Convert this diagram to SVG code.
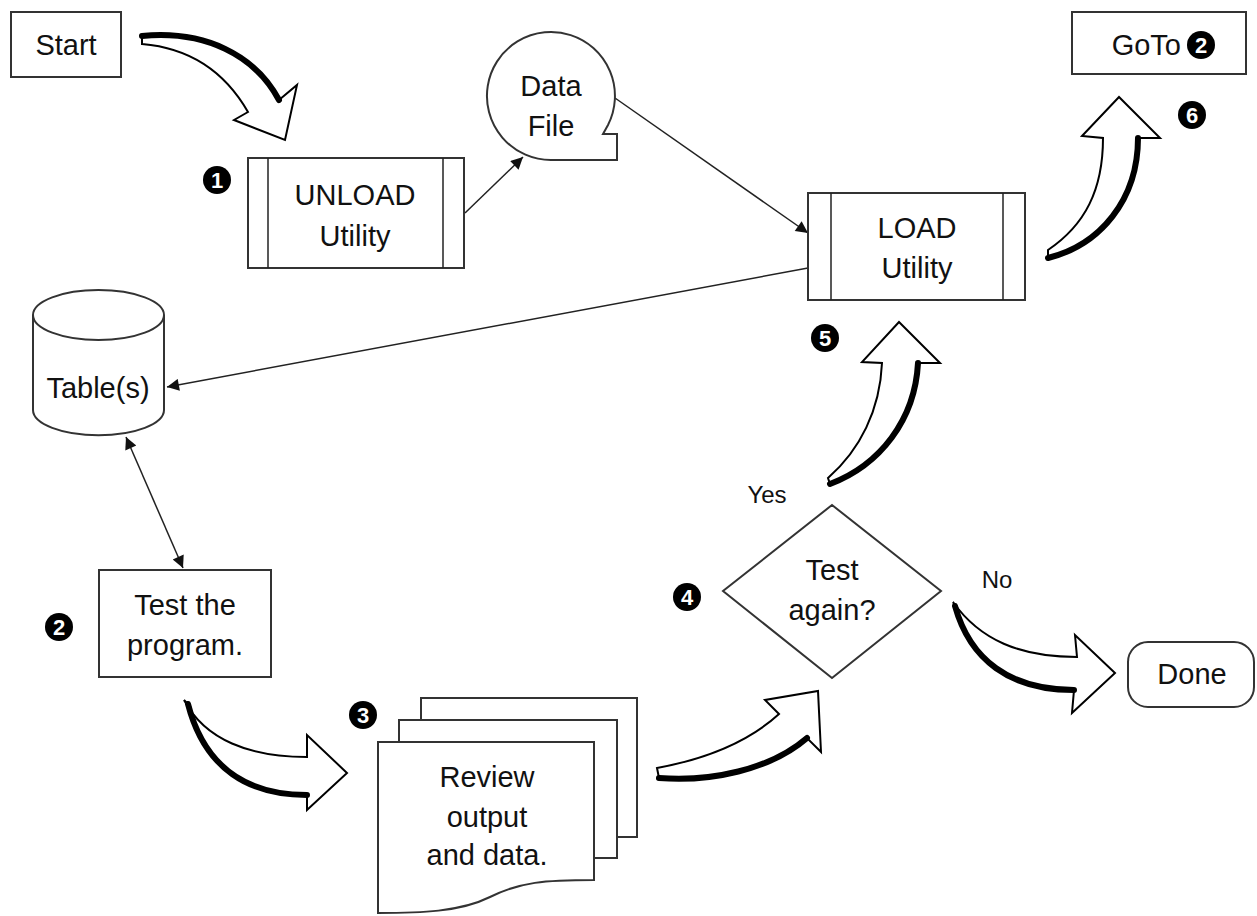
<svg xmlns="http://www.w3.org/2000/svg" width="1257" height="916" viewBox="0 0 1257 916">
<defs>
<style>
.box{fill:#fff;stroke:#333;stroke-width:2}
.t{font-family:"Liberation Sans",Arial,sans-serif;font-size:29px;fill:#111;text-anchor:middle}
.lbl{font-family:"Liberation Sans",Arial,sans-serif;font-size:24px;fill:#111;text-anchor:middle}
.num{font-family:"Liberation Sans",Arial,sans-serif;font-size:22px;font-weight:bold;fill:#fff;text-anchor:middle}
.ln{fill:none;stroke:#222;stroke-width:1.5}
.blk{fill:#fff;stroke:#000;stroke-width:2;stroke-linejoin:miter}
.sh{fill:none;stroke:#000;stroke-width:6;stroke-linecap:round}
</style>
<marker id="ah" viewBox="0 0 10 10" refX="10" refY="5" markerWidth="14" markerHeight="12" markerUnits="userSpaceOnUse" orient="auto-start-reverse">
<path d="M0,0 L10,5 L0,10 z" fill="#111"/>
</marker>
</defs>
<rect width="1257" height="916" fill="#fff"/>

<g id="connectors">
<line class="ln" x1="465" y1="213" x2="523" y2="157" marker-end="url(#ah)"/>
<line class="ln" x1="615" y1="98" x2="808" y2="233" marker-end="url(#ah)"/>
<line class="ln" x1="808" y1="268" x2="167" y2="387" marker-end="url(#ah)"/>
<line class="ln" x1="126" y1="437" x2="183" y2="568" marker-start="url(#ah)" marker-end="url(#ah)"/>
<g id="arrow-start">
<path class="blk" d="M142,36 C205,30 255,55 279,100 L297,85 L285,140 L234,120 L248,112 C225,72 190,48 142,44 Z"/>
<path class="sh" d="M142,36 C205,30 255,55 279,100"/>
</g>
<g id="arrow-test">
<path class="blk" d="M184,700 C205,740 250,757 307,757 L307,735 L347,773 L307,810 L307,795 C250,795 205,770 190,706 Z"/>
<path class="sh" d="M188,704 C205,770 250,795 307,795"/>
</g>
<g id="arrow-review">
<path class="blk" d="M657,768 C700,760 745,745 779,714 L765,700 L818,691 L821,752 L807,738 C770,770 710,782 659,778 Z"/>
<path class="sh" d="M807,738 C770,770 710,782 659,778"/>
</g>
<g id="arrow-yes">
<path class="blk" d="M828,478 C860,450 880,410 882,363 L862,362 L899,322 L940,363 L918,363 C915,420 880,465 830,484 Z"/>
<path class="sh" d="M918,363 C915,420 880,465 830,484"/>
</g>
<g id="arrow-goto">
<path class="blk" d="M1048,250 C1085,225 1103,190 1103,138 L1082,136 L1119,97 L1160,138 L1138,138 C1138,200 1100,245 1048,258 Z"/>
<path class="sh" d="M1138,138 C1138,200 1100,245 1048,258"/>
</g>
<g id="arrow-no">
<path class="blk" d="M953,602 C980,640 1020,657 1077,657 L1075,635 L1115,673 L1072,713 L1074,690 C1010,690 970,660 955,606 Z"/>
<path class="sh" d="M1074,690 C1010,690 970,660 955,606"/>
</g>
</g>

<g id="start">
<rect class="box" x="11" y="12" width="110" height="65"/>
<text class="t" x="66" y="55">Start</text>
</g>

<g id="unload">
<rect class="box" x="248" y="158" width="216" height="110"/>
<line class="ln" x1="268" y1="158" x2="268" y2="268"/>
<line class="ln" x1="443" y1="158" x2="443" y2="268"/>
<text class="t" x="355" y="205">UNLOAD</text>
<text class="t" x="355" y="246">Utility</text>
</g>

<g id="datafile">
<path class="box" d="M608,125 A64,64 0 1 0 551,160 L617,160 L617,134 L603,134 Z"/>
<text class="t" x="551" y="96">Data</text>
<text class="t" x="551" y="136">File</text>
</g>

<g id="load">
<rect class="box" x="808" y="193" width="217" height="107"/>
<line class="ln" x1="831" y1="193" x2="831" y2="300"/>
<line class="ln" x1="1003" y1="193" x2="1003" y2="300"/>
<text class="t" x="917" y="238">LOAD</text>
<text class="t" x="917" y="278">Utility</text>
</g>

<g id="goto">
<rect class="box" x="1072" y="12" width="174" height="62"/>
<text class="t" x="1181" y="55" style="text-anchor:end">GoTo</text>
<circle cx="1201" cy="45" r="14" fill="#000"/>
<text class="num" x="1201" y="53">2</text>
</g>

<g id="tables">
<path class="box" d="M33,315 L33,410 A65,25 0 0 0 164,410 L164,315"/>
<ellipse class="box" cx="98.5" cy="315" rx="65.5" ry="25"/>
<text class="t" x="98" y="398">Table(s)</text>
</g>

<g id="test">
<rect class="box" x="99" y="570" width="172" height="107"/>
<text class="t" x="185" y="615">Test the</text>
<text class="t" x="185" y="655">program.</text>
</g>

<g id="review">
<rect class="box" x="421" y="698" width="216" height="139"/>
<rect class="box" x="399" y="720" width="218" height="138"/>
<path class="box" d="M378,742 L594,742 L594,880 C545,880 520,882 490,897 C460,912 420,913 378,913 Z"/>
<text class="t" x="487" y="787">Review</text>
<text class="t" x="487" y="827">output</text>
<text class="t" x="487" y="865">and data.</text>
</g>

<g id="decision">
<polygon class="box" points="832,505 941,591 832,678 723,591"/>
<text class="t" x="832" y="580">Test</text>
<text class="t" x="832" y="620">again?</text>
<text class="lbl" x="767" y="503">Yes</text>
<text class="lbl" x="997" y="588">No</text>
</g>

<g id="done">
<rect class="box" x="1128" y="642" width="126" height="65" rx="20"/>
<text class="t" x="1192" y="684">Done</text>
</g>

<g id="numbers">
<circle cx="217" cy="180" r="14" fill="#000"/><text class="num" x="217" y="188">1</text>
<circle cx="59" cy="627" r="14" fill="#000"/><text class="num" x="59" y="635">2</text>
<circle cx="363" cy="715" r="14" fill="#000"/><text class="num" x="363" y="723">3</text>
<circle cx="687" cy="597" r="14" fill="#000"/><text class="num" x="687" y="605">4</text>
<circle cx="825" cy="338" r="14" fill="#000"/><text class="num" x="825" y="346">5</text>
<circle cx="1192" cy="115" r="14" fill="#000"/><text class="num" x="1192" y="123">6</text>
</g>
</svg>
